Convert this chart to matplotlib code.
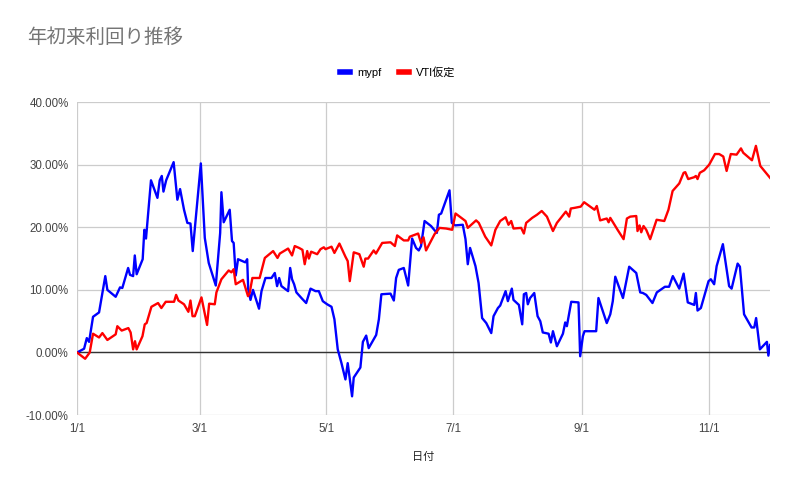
import matplotlib
matplotlib.use('Agg')
import matplotlib.pyplot as plt
import matplotlib.dates as mdates
from matplotlib.lines import Line2D
from matplotlib.ticker import FuncFormatter
import numpy as np

plt.rcParams['font.family'] = ['Liberation Sans', 'Noto Sans CJK JP', 'DejaVu Sans']

# days since 2021-01-01, return in %
mypf_days = [0, 3.4, 4.7, 5.8, 7.7, 10.6, 13.6, 14.6, 18.6, 20.7, 21.8, 24.6, 25.5, 27, 27.8, 28.7,
             31.6, 32.4, 33.2, 35.6, 38.7, 39.8, 40.8, 41.6, 42.9, 46.5, 48.3, 49.6, 51.5, 53.1,
             54.6, 55.7, 59.6, 61.5, 63.4, 66.8, 68.9, 69.5, 70.6, 73.5, 74.6, 75.4, 76.4, 77.5,
             81, 81.9, 82.4, 83.5, 84.7, 87.6, 88.8, 90.7, 93.6, 95.2, 96.3, 97.3, 98.4, 101.6,
             102.6, 103.5, 104.5, 105.6, 108.3, 110.3, 112.4, 114.8, 116.4, 118.3, 120.4, 122.5,
             123.9, 125.5, 127.3, 129.2, 130.3, 132.4, 133.2, 136.4, 137.6, 139.2, 140.4, 144,
             145.3, 146.5, 150.9, 152.5, 153.6, 154.9, 157.3, 159.4, 161.3, 163.2, 164.5, 165.6,
             167.3, 170.4, 173.2, 174.2, 175.3, 179.3, 180.4, 182, 185.7, 187, 188.1, 189.2, 191.8,
             193.3, 195, 197, 199.4, 200.5, 202.6, 203.7, 206.3, 207.4, 209.3, 210.1, 212.7, 214.3,
             215.1, 216.2, 217, 218.1, 220.1, 221.7, 223, 224.2, 227, 228.1, 229.1, 231, 233.9,
             235, 235.8, 237.9, 241.4, 242.2, 243.5, 244.3, 249.9, 251, 255, 256.7, 257.9, 259.1,
             262.8, 265.8, 269.2, 271.1, 272.4, 274, 277, 279.1, 283, 285, 286.8, 289.9, 292, 294,
             297.1, 297.9, 298.7, 300.3, 304, 305.1, 306.7, 307.9, 310.9, 313.9, 315.1, 318, 319.1,
             321.1, 324.7, 326, 326.9, 328.7, 332.1, 332.8, 333.6]
mypf_vals = [0, 0.6, 2.3, 1.7, 5.7, 6.4, 12.2, 10.0, 8.9, 10.4, 10.3, 13.5, 12.4, 12.2, 15.5, 12.5,
             14.9, 19.6, 18.2, 27.5, 24.7, 27.5, 28.2, 25.7, 27.5, 30.4, 24.4, 26.1, 22.8, 20.7,
             20.6, 16.2, 30.2, 18.3, 14.3, 10.7, 19.1, 25.6, 20.8, 22.8, 17.8, 17.5, 12.3, 14.9,
             14.4, 14.9, 10.1, 8.4, 10.0, 7.0, 9.8, 11.9, 11.9, 12.7, 10.6, 11.9, 10.6, 9.8,
             13.5, 11.7, 10.9, 9.6, 8.6, 7.9, 10.2, 9.8, 9.8, 8.2, 7.7, 7.3,
             5.3, 0.5, -1.7, -4.3, -1.7, -7.0, -4.0, -2.4, 1.7, 2.7, 0.7, 2.8,
             5.3, 9.3, 9.4, 8.3, 11.9, 13.2, 13.5, 10.7, 18.2, 16.7, 16.3, 17.0,
             21.0, 20.2, 19.1, 22.0, 22.2, 25.9, 20.7, 20.3, 20.4, 18.1, 14.1, 16.7, 13.8,
             11.1, 5.5, 4.7, 3.1, 5.8, 7.1, 7.5, 9.8, 8.2, 10.2, 8.4, 7.6, 4.5,
             9.3, 9.5, 7.7, 8.7, 9.5, 5.8, 5.0, 3.2, 3.0, 1.6, 3.4, 1.0, 3.0,
             4.8, 4.2, 8.1, 8.0, -0.6, 2.6, 3.4, 3.4, 8.7, 4.7, 6.1, 8.2, 12.1,
             8.7, 13.7, 12.7, 9.6, 9.5, 9.2, 7.9, 9.6, 10.5, 10.5, 12.2, 10.2, 12.6, 8.0,
             7.6, 9.5, 6.7, 7.1, 11.4, 11.7, 10.9, 13.8, 17.3, 10.6, 10.2, 14.2, 13.7,
             6.1, 4.0, 4.0, 5.5, 0.5, 1.7, -0.5, 1.2]

vti_days = [0, 3.9, 6.1, 7.7, 10.6, 12.2, 14.6, 18.6, 19.4, 21.5, 24.7, 25.8, 27, 27.9, 28.7, 31.5,
            32.6, 33.5, 35.8, 39, 40.6, 42.7, 46.7, 47.7, 48.8, 51.5, 53.6, 54.6, 55.6, 56.7,
            59.9, 62.6, 63.6, 66.3, 67.1, 69.5, 73, 74.3, 75.4, 76.4, 79.9, 82.3, 83.1, 84.4, 87.9,
            90.4, 94.4, 96.5, 97.6, 101.6, 103.5, 104.8, 106.9, 108.5, 109.6, 110.8, 111.6, 112.7,
            115.6, 117.2, 118.8, 119.6, 122.5, 123.9, 126.3, 129.2, 130.3, 131.3, 133.2, 135.9, 138,
            138.8, 140.1, 142.8, 143.9, 146.9, 150.9, 153, 154.1, 157.3, 159.4, 160.2, 164.2, 165.6,
            166.8, 168, 172.1, 174.5, 177.7, 180.6, 182.2, 187, 188.1, 192.1, 193.4, 196.5, 199.4,
            201.4, 203.7, 206.3, 207.7, 209, 210.1, 213.8, 215.1, 216.2, 219.1, 221.4, 223.7, 226.2,
            229.1, 231, 235.3, 236.9, 237.7, 239.5, 242.5, 244.1, 246.2, 249.1, 250.2, 251.8, 255,
            255.9, 256.7, 260.2, 263.1, 264.7, 266.3, 269.2, 269.8, 270.8, 271.6, 272.7, 274,
            275.9, 279, 282.7, 284.7, 286.7, 289.9, 292, 292.8, 294.2, 297.1, 297.9, 298.7, 299.8,
            301.9, 304.3, 307.1, 309.1, 311.1, 312.7, 314.7, 317.5, 319.6, 320.7, 324.9, 326.8,
            328.9, 331.6, 333.6]
vti_vals = [0, -1.0, 0, 3.0, 2.4, 3.1, 2.0, 2.9, 4.2, 3.5, 3.9, 3.2, 0.5, 1.8, 0.5, 2.6,
            4.5, 4.7, 7.3, 7.9, 7.1, 8.1, 8.1, 9.2, 8.3, 7.7, 6.5, 8.3, 5.8, 5.8,
            8.8, 4.4, 7.8, 7.7, 9.6, 11.7, 13.1, 12.8, 13.3, 10.9, 11.6, 9.0, 9.5, 11.9, 11.9,
            15.1, 16.2, 15.1, 15.8, 16.6, 15.5, 17.0, 16.7, 16.4, 14.1, 16.2, 15.0, 16.1,
            15.7, 16.5, 16.8, 16.5, 16.9, 15.9, 17.4, 15.3, 14.6, 11.4, 16.0, 15.7, 13.7,
            15.0, 15.0, 16.3, 15.8, 17.5, 17.6, 17.0, 18.7, 17.9, 17.9, 18.5, 19.0, 17.5,
            18.4, 16.3, 18.9, 19.9, 19.8, 19.6, 22.2, 21.0, 19.9, 21.1, 20.7, 18.5, 17.1,
            19.6, 21.0, 21.6, 20.4, 21.0, 19.8, 19.9, 19.0, 20.7, 21.5, 22.0, 22.6, 21.7,
            19.4, 20.7, 22.5, 21.7, 23.0, 23.1, 23.3, 24.0, 23.5, 22.8, 23.4, 21.1, 21.4,
            20.8, 21.5, 19.6, 18.1, 21.4, 21.7, 21.8, 19.4, 20.3, 19.2, 20.2, 19.6,
            18.1, 21.2, 21.0, 22.8, 25.8, 27.0, 28.7, 28.8, 27.7, 28.0, 28.2, 27.7, 28.7,
            29.1, 30.0, 31.7, 31.7, 31.3, 29.0, 31.7, 31.6, 32.6, 31.9, 30.7, 33.0,
            29.8, 28.7, 27.9]

start_date = '2021-01-01'
tick_dates = ['2021-01-01', '2021-03-01', '2021-05-01', '2021-07-01', '2021-09-01', '2021-11-01']
tick_labels = ['1/1', '3/1', '5/1', '7/1', '9/1', '11/1']
y_ticks = [-10, 0, 10, 20, 30, 40]

base = mdates.datestr2num(start_date)
mx = base + np.array(mypf_days)
vx = base + np.array(vti_days)

fig = plt.figure(figsize=(7.95, 4.93), dpi=100)
ax = fig.add_axes([0.0969, 0.158, 0.8717, 0.635])

ax.plot(mx, mypf_vals, color='#0000ff', lw=1.7, solid_joinstyle='round', zorder=3)
ax.plot(vx, vti_vals, color='#ff0000', lw=1.7, solid_joinstyle='round', zorder=3)

ax.set_xlim(mx[0], mx[-1])
ax.set_ylim(-10, 40)
ax.set_yticks(y_ticks)
ax.yaxis.set_major_formatter(FuncFormatter(lambda v, p: f'{v:.2f}%'))
ax.set_xticks([mdates.datestr2num(d) for d in tick_dates])
ax.set_xticklabels(tick_labels)
ax.tick_params(length=0, labelsize=8.3, colors='#444444', pad=6)

ax.grid(True, color='#cccccc', lw=0.9)
ax.axhline(0, color='#333333', lw=1, zorder=2)
for s in ax.spines.values():
    s.set_visible(False)

ax.set_xlabel('日付', fontsize=8, color='#222222', labelpad=12)

fig.text(0.034, 0.925, '年初来利回り推移', fontsize=14, color='#757575',
         family=['Noto Sans CJK JP', 'DejaVu Sans'], va='center')

handles = [Line2D([], [], color='#0000ff', lw=4), Line2D([], [], color='#ff0000', lw=4)]
fig.legend(handles, ['mypf', 'VTI仮定'], loc='center', bbox_to_anchor=(0.5, 0.853), ncol=2,
           frameon=False, fontsize=8, handlelength=0.9, handletextpad=0.6, columnspacing=1.6)

fig.savefig('out.png', dpi=100)
